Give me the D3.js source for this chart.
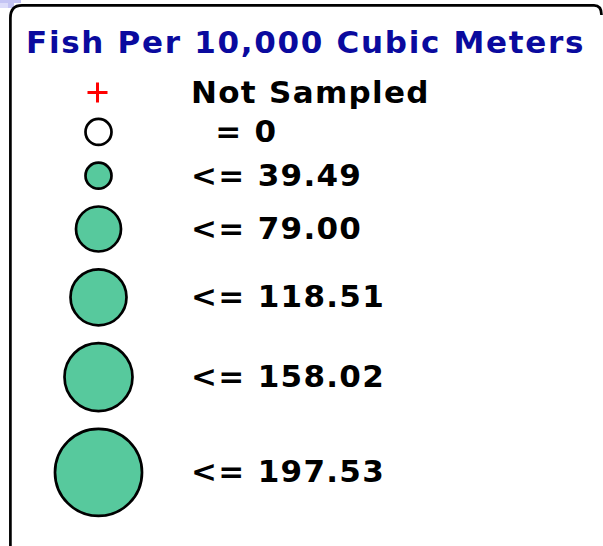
<!DOCTYPE html>
<html>
<head>
<meta charset="utf-8">
<script src="https://cdn.jsdelivr.net/npm/d3@7"></script>
<style>
  body { margin: 0; background: #fff; }
  text { font-family: "DejaVu Sans", Verdana, sans-serif; font-weight: bold; white-space: pre; }
</style>
</head>
<body>
<div id="legend"></div>
<script>
// legend classes (fish per 10,000 m3)
var title = "Fish Per 10,000 Cubic Meters";
var labels = ["Not Sampled", "  = 0", "<= 39.49", "<= 79.00", "<= 118.51", "<= 158.02", "<= 197.53"];
var classMax = [null, 0, 39.49, 79.00, 118.51, 158.02, 197.53];
var symbolType = ["plus", "empty", "filled", "filled", "filled", "filled", "filled"];

var width = 603, height = 546;

var svg = d3.select("#legend").append("svg")
    .attr("width", width)
    .attr("height", height);

// little blue smudge in the corner
svg.append("path")
    .attr("d", "M0,0H21V3H14V8H0Z")
    .attr("fill", "#c4c4f4");
svg.append("path")
    .attr("d", "M0,3H8V8H0Z")
    .attr("fill", "#dcdcfa");

// frame (only left + top edges show)
svg.append("path")
    .attr("d", "M10.4,546V18Q10.4,5.4 22,5.4H594Q601.5,5.4 601.5,15")
    .attr("fill", "none")
    .attr("stroke", "#000")
    .attr("stroke-width", 2.7);

svg.append("text")
    .attr("x", 26)
    .attr("y", 53)
    .attr("font-size", 31)
    .attr("letter-spacing", 1.7)
    .attr("fill", "#0a0a9e")
    .text(title);

var rows = labels.map(function(l, i) {
  return {label: l, max: classMax[i], type: symbolType[i]};
});

// symbol size per class
var radius = d3.scaleOrdinal()
    .domain(labels)
    .range([10, 13, 13, 22.5, 28, 34, 43.5]);

// stack rows vertically from symbol sizes
var gap = 15, y = 92.5;
rows.forEach(function(d, i) {
  if (i > 0) y += radius(rows[i - 1].label) + (rows[i - 1].type == "plus" ? 0 : 1.4) + gap + radius(d.label) + 1.4;
  d.cy = y;
});

var symX = 98.5;

var g = svg.selectAll(".row")
  .data(rows)
  .enter().append("g")
    .attr("class", "row")
    .attr("transform", function(d) { return "translate(0," + d.cy + ")"; });

g.filter(function(d) { return d.type == "plus"; })
  .append("path")
    .attr("d", function(d) {
      var r = radius(d.label);
      return "M" + (symX - 1 - r) + ",0H" + (symX - 1 + r) + "M" + (symX - 1) + "," + (-r) + "V" + r;
    })
    .attr("stroke", "#ff0000")
    .attr("stroke-width", 3)
    .attr("fill", "none");

g.filter(function(d) { return d.type != "plus"; })
  .append("circle")
    .attr("cx", symX)
    .attr("cy", 0)
    .attr("r", function(d) { return radius(d.label); })
    .attr("fill", function(d) { return d.type == "empty" ? "#fff" : "#57c99d"; })
    .attr("stroke", "#000")
    .attr("stroke-width", 2.7);

g.append("text")
    .attr("x", 191)
    .attr("y", 10)
    .attr("font-size", 31)
    .attr("letter-spacing", 1.3)
    .attr("fill", "#000")
    .text(function(d) { return d.label; });
</script>
</body>
</html>
